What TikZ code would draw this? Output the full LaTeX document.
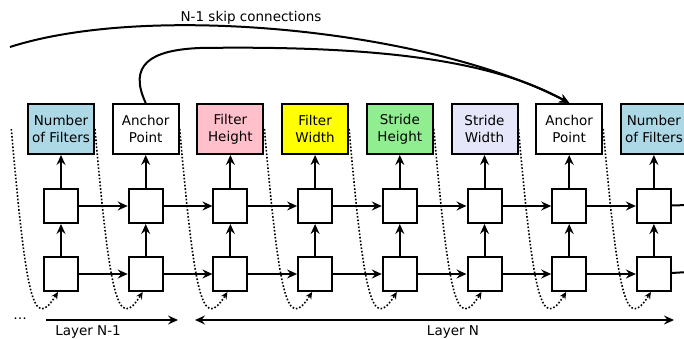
\documentclass[tikz,border=0pt]{standalone}
\usepackage{fontspec}
\setmainfont{DejaVu Sans}
\usetikzlibrary{positioning, arrows.meta}

\definecolor{filtersblue}{HTML}{ADD8E6}
\definecolor{heightpink}{HTML}{FFC0CB}
\definecolor{widthyellow}{HTML}{FFFF00}
\definecolor{stridegreen}{HTML}{90EE90}
\definecolor{stridelavender}{HTML}{E6E6FA}

\tikzset{
	param/.style={draw, line width=2pt, minimum width=66pt, minimum height=50pt, align=center, inner sep=2pt},
	cell/.style={draw, line width=2pt, minimum size=34pt, inner sep=0pt},
	flow/.style={-{Stealth[length=10pt,width=9pt,inset=3.5pt]}, line width=2pt},
	span/.style={{Stealth[length=10pt,width=9pt,inset=3.5pt]}-{Stealth[length=10pt,width=9pt,inset=3.5pt]}, line width=2pt},
	feed/.style={-{Stealth[length=7pt,width=6.5pt,inset=2.5pt]}, line width=1.6pt, dash pattern=on 1.6pt off 1.9pt},
}

\begin{document}
\begin{tikzpicture}[x=1pt, y=-1pt, node distance=33pt and 16.7pt, font=\fontsize{13.5}{17}\selectfont]
	\useasboundingbox (0,0) rectangle (684,339);
	\clip (0,0) rectangle (684,339);

	\node[param, fill=filtersblue] (nf1) at (61,129) {Number\\of Filters};
	\node[param] (ap1) [right=of nf1] {Anchor\\Point};
	\node[param, fill=heightpink] (fh) [right=of ap1] {Filter\\Height};
	\node[param, fill=widthyellow] (fw) [right=of fh] {Filter\\Width};
	\node[param, fill=stridegreen] (sh) [right=of fw] {Stride\\Height};
	\node[param, fill=stridelavender] (sw) [right=of sh] {Stride\\Width};
	\node[param] (ap2) [right=of sw] {Anchor\\Point};
	\node[param, fill=filtersblue] (nf2) [right=of ap2] {Number\\of Filters};

	\foreach \i/\p in {1/nf1, 2/ap1, 3/fh, 4/fw, 5/sh, 6/sw, 7/ap2, 8/nf2} {
		\node[cell] (u\i) [below=of \p] {};
		\node[cell] (l\i) [below=32pt of u\i] {};
		\draw[flow] (l\i) -- (u\i);
		\draw[flow] (u\i) -- (\p);
	}

	% previous and next layer, off the page
	\coordinate (nf0) at (11.3,129);
	\coordinate (u9) at (723,204);
	\coordinate (l9) at (723,270);

	\foreach \i [evaluate=\i as \j using int(\i+1)] in {1,...,7} {
		\draw[flow] (u\i) -- (u\j);
		\draw[flow] (l\i) -- (l\j);
	}
	\draw[line width=2pt] (u8) -- (u9);
	\draw[line width=2pt] (l8) -- (l9);

	% dotted feedback into the next column
	\draw[feed] (nf0) .. controls +(15,170) and +(-25,40) .. ([xshift=-3pt]l1.south);
	\foreach \p/\j in {nf1/2, ap1/3, fh/4, fw/5, sh/6, sw/7, ap2/8}
		\draw[feed] (\p.east) .. controls +(15,170) and +(-25,40) .. ([xshift=-3pt]l\j.south);
	\draw[feed] (nf2.east) .. controls +(15,170) and +(-25,40) .. ([xshift=-3pt, yshift=-17pt]l9);

	% skip connections
	\coordinate (skipin) at (10,47);
	\draw[flow] (skipin) .. controls (150,2) and (430,30) .. (ap2.north);
	\draw[flow] (ap1.north) .. controls (128,65) and (150,50) .. (200,48)
		.. controls (400,45) and (500,65) .. (ap2.north);
	\node (skiptext) [anchor=base] at (251,22) {N-1 skip connections};

	% layers
	\node (more) [anchor=base] at (20,319.5) {\dots};
	\coordinate (prevstart) at (46,320);
	\coordinate (prevend) at (178,320);
	\coordinate (curstart) at (195,320);
	\coordinate (curend) at (674,320);
	\draw[flow] (prevstart) -- (prevend);
	\draw[span] (curstart) -- (curend);
	\node (prevlabel) [anchor=base] at (88,335.5) {Layer N-1};
	\node (curlabel) [anchor=base] at (453,335.5) {Layer N};
\end{tikzpicture}
\end{document}
